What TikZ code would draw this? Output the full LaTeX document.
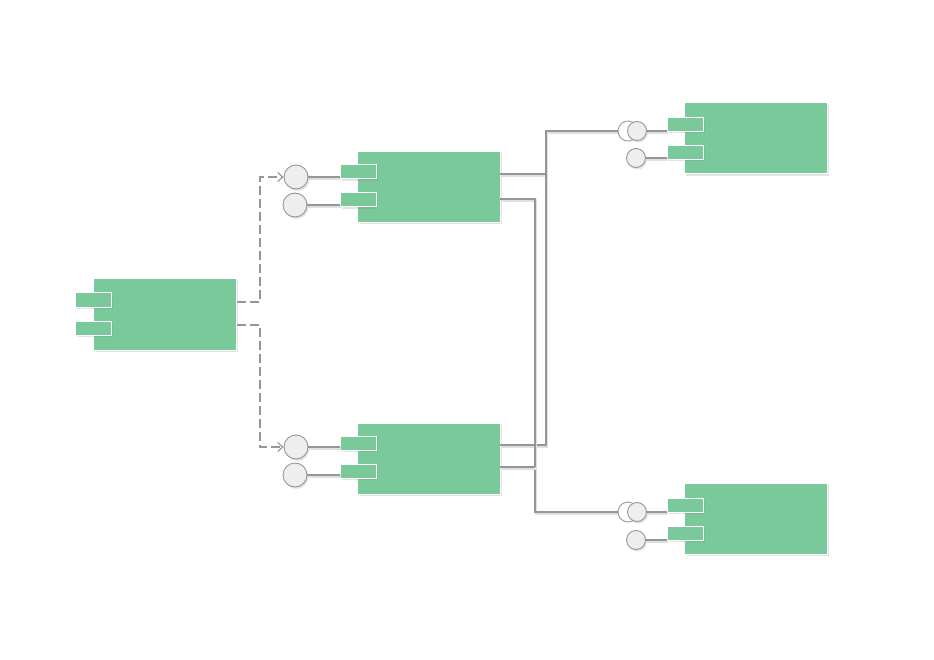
\documentclass[tikz,border=0pt]{standalone}
\usetikzlibrary{shadows,arrows.meta,calc}
\definecolor{compgreen}{RGB}{122,201,154}
\definecolor{linegray}{RGB}{150,150,150}
\definecolor{ballfill}{RGB}{238,238,238}
\tikzset{
  x=1pt,y=-1pt,
  shad/.style={drop shadow={opacity=0.22,shadow xshift=1.5pt,shadow yshift=-2pt}},
  comp/.style={rectangle,fill=compgreen,draw=white,line width=1pt,minimum width=143pt,minimum height=71pt,inner sep=0pt,shad},
  port/.style={rectangle,fill=compgreen,draw=white,line width=1pt,minimum width=36pt,minimum height=14pt,inner sep=0pt,shad},
  bigball/.style={circle,fill=ballfill,draw=linegray,line width=0.9pt,minimum size=24pt,inner sep=0pt,shad},
  smallball/.style={circle,fill=ballfill,draw=linegray,line width=0.9pt,minimum size=19pt,inner sep=0pt,shad},
  socket/.style={draw=linegray,line width=0.9pt},
  conn/.style={draw=linegray,line width=1.1pt,preaction={draw=black!12,line width=2.2pt,transform canvas={shift={(1pt,-1.5pt)}}}},
  dep/.style={draw=linegray,line width=1.1pt,dash pattern=on 9pt off 4pt,-{Straight Barb[length=5pt,width=9pt]}},
}
\begin{document}
\begin{tikzpicture}
\useasboundingbox (0,0) rectangle (934,660);
% component boxes
\node[comp] (A) at (165,314.5) {};
\node[port] (pA1) at (93,300) {};
\node[port] (pA2) at (93,328) {};

\node[comp] (B) at (429,187) {};
\node[port] (pB1) at (358,172) {};
\node[port] (pB2) at (358,200) {};

\node[comp] (C) at (429,458.5) {};
\node[port] (pC1) at (358,443) {};
\node[port] (pC2) at (358,471) {};

\node[comp] (D) at (756,138.5) {};
\node[port] (pD1) at (685,124.5) {};
\node[port] (pD2) at (685,152.5) {};

\node[comp] (E) at (756,518.5) {};
\node[port] (pE1) at (685,505) {};
\node[port] (pE2) at (685,533) {};

% connection points
\coordinate (Aout1) at (237,302);
\coordinate (Aout2) at (237,325);
\coordinate (Bout1) at (500,174);
\coordinate (Bout2) at (500,199);
\coordinate (Cout1) at (500,445);
\coordinate (Cout2) at (500,467);
\coordinate (sD) at (618,131);
\coordinate (sE) at (618,512);

% provided-interface connectors (drawn first)
\draw[conn] (Bout1) -- (546,174) |- (sD);
\draw[conn] (Cout1) -- (546,445) -- (546,174);
\draw[conn] (Bout2) -- (535,199) |- (sE);
\draw[conn] (Cout2) -- (535,467);

% lollipops B
\node[bigball] (bB1) at (296,177) {};
\node[bigball] (bB2) at (295,205) {};
\draw[conn] (bB1.east) -- (bB1.east -| pB1.west);
\draw[conn] (bB2.east) -- (bB2.east -| pB2.west);
% lollipops C
\node[bigball] (bC1) at (296,447) {};
\node[bigball] (bC2) at (295,475) {};
\draw[conn] (bC1.east) -- (bC1.east -| pC1.west);
\draw[conn] (bC2.east) -- (bC2.east -| pC2.west);

% sockets and balls D
\draw[socket] (628,131) ++(60:10pt) arc[start angle=60,end angle=300,radius=10pt];
\node[smallball] (bD1) at (637,131) {};
\node[smallball] (bD2) at (636,158) {};
\draw[conn] (bD1.east) -- (bD1.east -| pD1.west);
\draw[conn] (bD2.east) -- (bD2.east -| pD2.west);

% sockets and balls E
\draw[socket] (628,512) ++(60:10pt) arc[start angle=60,end angle=300,radius=10pt];
\node[smallball] (bE1) at (637,512) {};
\node[smallball] (bE2) at (636,540) {};
\draw[conn] (bE1.east) -- (bE1.east -| pE1.west);
\draw[conn] (bE2.east) -- (bE2.east -| pE2.west);

% dependencies from A
\draw[dep] (Aout1) -- (260,302) |- (bB1.west);
\draw[dep] (Aout2) -- (260,325) |- (bC1.west);
\end{tikzpicture}
\end{document}
